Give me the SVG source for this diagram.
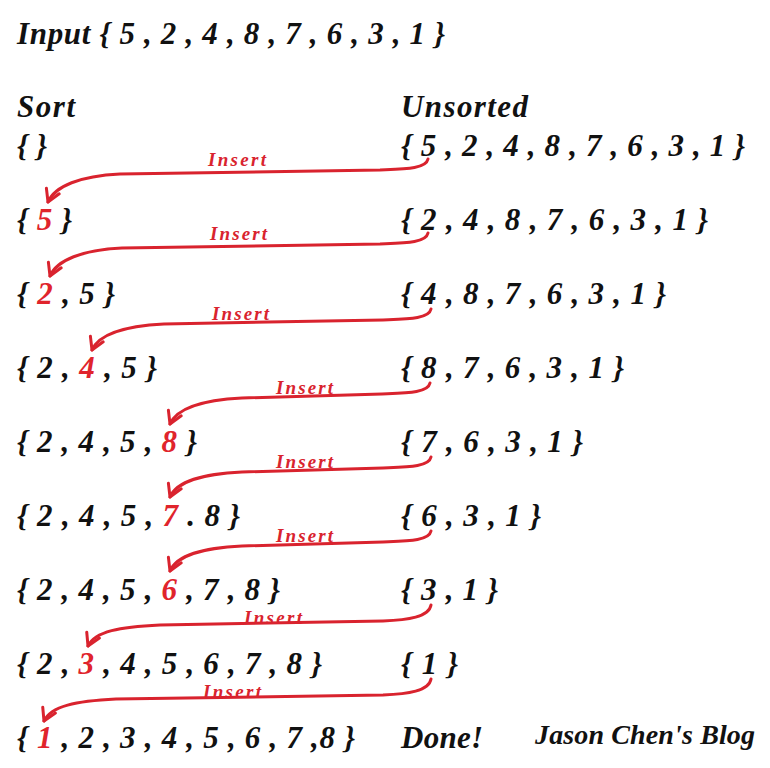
<svg xmlns="http://www.w3.org/2000/svg" width="770" height="768" viewBox="0 0 770 768">
<style>
.t{font-family:"Liberation Serif","Times New Roman",serif;font-weight:bold;font-style:italic;font-size:31px;fill:#111}
.r{fill:#e0242c}
.lbl{font-family:"Liberation Serif","Times New Roman",serif;font-weight:bold;font-style:italic;font-size:19px;fill:#d9232e}
.blog{font-family:"Liberation Serif","Times New Roman",serif;font-weight:bold;font-style:italic;font-size:28px;fill:#111}
.arr{fill:none;stroke:#d9232e;stroke-width:3;stroke-linecap:round;marker-end:url(#ah)}
</style>
<defs>
<marker id="ah" markerUnits="userSpaceOnUse" viewBox="-14 -9 16 18" refX="0" refY="0" markerWidth="16" markerHeight="18" orient="auto">
<path d="M-12,-7 L0,0 L-12,7" fill="none" stroke="#d9232e" stroke-width="3" stroke-linecap="round" stroke-linejoin="round"/>
</marker>
</defs>
<rect width="770" height="768" fill="#fff"/>

<g id="header">
<text class="t" x="17" y="44" textLength="428">Input { 5 , 2 , 4 , 8 , 7 , 6 , 3 , 1 }</text>
<text class="t" x="17" y="117" textLength="58">Sort</text>
<text class="t" x="401" y="117" textLength="127">Unsorted</text>
</g>

<g id="row1">
<text class="t" x="17" y="156" textLength="30">{ }</text>
<text class="t" x="401" y="156" textLength="344">{ 5 , 2 , 4 , 8 , 7 , 6 , 3 , 1 }</text>
</g>
<g id="row2">
<text class="t" x="17" y="230" textLength="55">{ <tspan class="r">5</tspan> }</text>
<text class="t" x="401" y="230" textLength="307">{ 2 , 4 , 8 , 7 , 6 , 3 , 1 }</text>
</g>
<g id="row3">
<text class="t" x="17" y="304" textLength="98">{ <tspan class="r">2</tspan> , 5 }</text>
<text class="t" x="401" y="304" textLength="265">{ 4 , 8 , 7 , 6 , 3 , 1 }</text>
</g>
<g id="row4">
<text class="t" x="17" y="378" textLength="140">{ 2 , <tspan class="r">4</tspan> , 5 }</text>
<text class="t" x="401" y="378" textLength="223">{ 8 , 7 , 6 , 3 , 1 }</text>
</g>
<g id="row5">
<text class="t" x="17" y="452" textLength="180">{ 2 , 4 , 5 , <tspan class="r">8</tspan> }</text>
<text class="t" x="401" y="452" textLength="182">{ 7 , 6 , 3 , 1 }</text>
</g>
<g id="row6">
<text class="t" x="17" y="526" textLength="223">{ 2 , 4 , 5 , <tspan class="r">7</tspan> . 8 }</text>
<text class="t" x="401" y="526" textLength="140">{ 6 , 3 , 1 }</text>
</g>
<g id="row7">
<text class="t" x="17" y="600" textLength="263">{ 2 , 4 , 5 , <tspan class="r">6</tspan> , 7 , 8 }</text>
<text class="t" x="401" y="600" textLength="97">{ 3 , 1 }</text>
</g>
<g id="row8">
<text class="t" x="17" y="674" textLength="305">{ 2 , <tspan class="r">3</tspan> , 4 , 5 , 6 , 7 , 8 }</text>
<text class="t" x="401" y="674" textLength="57">{ 1 }</text>
</g>
<g id="row9">
<text class="t" x="17" y="748" textLength="338">{ <tspan class="r">1</tspan> , 2 , 3 , 4 , 5 , 6 , 7 ,8 }</text>
<text class="t" x="401" y="748" textLength="82">Done!</text>
</g>
<g id="blog">
<text class="blog" x="535" y="744" textLength="220">Jason Chen's Blog</text>
</g>

<g id="connectors">
<path class="arr" d="M428,159 C426,169 405,169 380,170 L120,174 C80,176 55,186 48,202"/>
<path class="arr" d="M428,233 C426,243 405,243 380,244 L122,248 C82,250 57,260 50,276"/>
<path class="arr" d="M431,309 C429,319 408,319 383,320 L164,324 C124,326 99,334 92,350"/>
<path class="arr" d="M430,383 C428,393 407,393 382,394 L242,398 C202,400 177,408 170,424"/>
<path class="arr" d="M431,457 C429,467 408,467 383,468 L242,472 C202,474 177,481 170,497"/>
<path class="arr" d="M431,531 C429,541 408,541 383,542 L242,546 C202,548 177,555 170,571"/>
<path class="arr" d="M431,605 C429,617 408,620 383,621 L160,625 C120,627 95,631 88,646"/>
<path class="arr" d="M431,679 C429,691 408,694 383,695 L116,699 C76,701 51,706 44,721"/>
<text class="lbl" x="208" y="166" textLength="58">Insert</text>
<text class="lbl" x="210" y="240" textLength="57">Insert</text>
<text class="lbl" x="212" y="320" textLength="57">Insert</text>
<text class="lbl" x="276" y="394" textLength="57">Insert</text>
<text class="lbl" x="276" y="468" textLength="57">Insert</text>
<text class="lbl" x="276" y="542" textLength="57">Insert</text>
<text class="lbl" x="244" y="624" textLength="58">Insert</text>
<text class="lbl" x="203" y="698" textLength="58">Insert</text>
</g>
</svg>
